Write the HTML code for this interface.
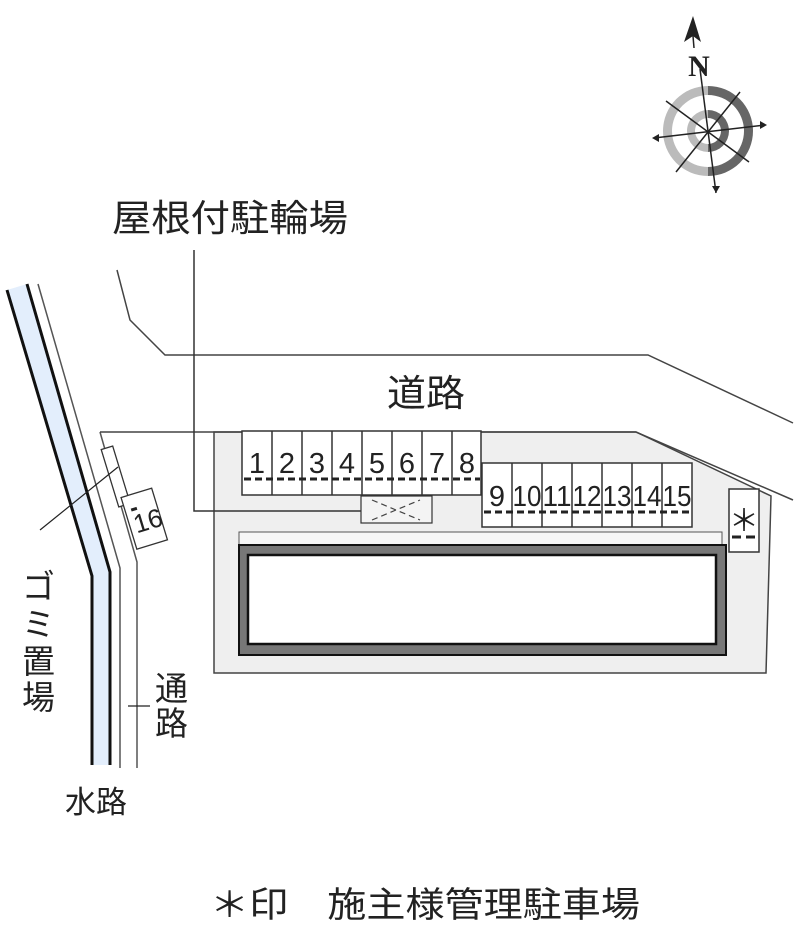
<!DOCTYPE html>
<html><head><meta charset="utf-8"><style>
html,body{margin:0;padding:0;background:#fff;}
svg{display:block;}
text{font-family:"Liberation Sans","Noto Sans CJK JP",sans-serif;fill:#222;}
</style></head><body>
<svg width="800" height="941" viewBox="0 0 800 941" xmlns="http://www.w3.org/2000/svg">
<polygon points="7,290 27,284 110,572 110,765 92,765 92,576" fill="#e3eefc"/>
<polyline points="7,290 92,576 92,765" fill="none" stroke="#111" stroke-width="3"/>
<polyline points="27,284 110,572 110,765" fill="none" stroke="#111" stroke-width="3"/>
<polyline points="38,284 120,568 120,768" fill="none" stroke="#555" stroke-width="1.5"/>
<polyline points="100,432 137,562 137,768" fill="none" stroke="#555" stroke-width="1.5"/>
<polyline points="117,270 130,320 165,355 648,355 793,423" fill="none" stroke="#444" stroke-width="1.5"/>
<polygon points="214,432 636,432 771,496 766,673 214,673" fill="#efefef" stroke="#444" stroke-width="1.5"/>
<polyline points="100,432 636,432 793,500" fill="none" stroke="#444" stroke-width="1.5"/>
<polyline points="194,250 194,511 361,511" fill="none" stroke="#333" stroke-width="1.5"/>
<g stroke="#333" stroke-width="1.5" fill="#fff">
<rect x="242" y="431" width="239" height="64"/>
<rect x="482" y="463" width="210" height="64"/>
<rect x="729" y="489" width="30" height="63"/>
<rect x="361" y="496" width="71" height="27" fill="#f4f4f4" stroke-width="1.2"/>
</g>
<g stroke="#333" stroke-width="1.5">
<line x1="272" y1="431" x2="272" y2="495"/><line x1="302" y1="431" x2="302" y2="495"/>
<line x1="332" y1="431" x2="332" y2="495"/><line x1="362" y1="431" x2="362" y2="495"/>
<line x1="392" y1="431" x2="392" y2="495"/><line x1="422" y1="431" x2="422" y2="495"/>
<line x1="452" y1="431" x2="452" y2="495"/>
<line x1="512" y1="463" x2="512" y2="527"/><line x1="542" y1="463" x2="542" y2="527"/>
<line x1="572" y1="463" x2="572" y2="527"/><line x1="602" y1="463" x2="602" y2="527"/>
<line x1="632" y1="463" x2="632" y2="527"/><line x1="662" y1="463" x2="662" y2="527"/>
</g>
<g stroke="#222" stroke-width="3" stroke-dasharray="7,4">
<line x1="244" y1="479" x2="480" y2="479"/>
<line x1="484" y1="512" x2="691" y2="512"/>
<line x1="732" y1="537" x2="757" y2="537" stroke-dasharray="9,5"/>
</g>
<g stroke="#444" stroke-width="1.2" stroke-dasharray="6,4">
<line x1="372" y1="500" x2="420" y2="520"/><line x1="372" y1="520" x2="420" y2="500"/>
</g>
<g font-size="29" text-anchor="middle">
<text x="257" y="473">1</text><text x="287" y="473">2</text><text x="317" y="473">3</text>
<text x="347" y="473">4</text><text x="377" y="473">5</text><text x="407" y="473">6</text>
<text x="437" y="473">7</text><text x="467" y="473">8</text>
<text x="497" y="506">9</text>
<text x="527" y="506" textLength="29" lengthAdjust="spacingAndGlyphs">10</text>
<text x="557" y="506" textLength="29" lengthAdjust="spacingAndGlyphs">11</text>
<text x="587" y="506" textLength="29" lengthAdjust="spacingAndGlyphs">12</text>
<text x="617" y="506" textLength="29" lengthAdjust="spacingAndGlyphs">13</text>
<text x="647" y="506" textLength="29" lengthAdjust="spacingAndGlyphs">14</text>
<text x="677" y="506" textLength="29" lengthAdjust="spacingAndGlyphs">15</text>
</g>
<text x="744" y="531" font-size="30" text-anchor="middle" style="font-family:'Noto Sans CJK JP',sans-serif">＊</text>
<rect x="239" y="532" width="483" height="13" fill="#f6f6f6" stroke="#555" stroke-width="1"/>
<rect x="239" y="545" width="487" height="110" fill="#777" stroke="#111" stroke-width="2"/>
<rect x="248" y="555" width="468" height="89" fill="#fff" stroke="#111" stroke-width="2.5"/>
<g transform="rotate(-17 120 470)">
<rect x="108" y="445" width="12" height="60" fill="#fff" stroke="#333" stroke-width="1.3"/>
</g>
<g transform="rotate(-17 143 518)">
<rect x="128" y="492" width="32" height="54" fill="#fff" stroke="#333" stroke-width="1.3"/>
<text x="147" y="531" font-size="26" text-anchor="middle">16</text>
<line x1="134" y1="507" x2="140" y2="507" stroke="#222" stroke-width="3"/>
</g>
<line x1="118" y1="467" x2="40" y2="530" stroke="#222" stroke-width="1.2"/>
<text x="112" y="231" font-size="37" textLength="236" lengthAdjust="spacingAndGlyphs">屋根付駐輪場</text>
<text x="387" y="406" font-size="37" textLength="78" lengthAdjust="spacingAndGlyphs">道路</text>
<g font-size="33">
<text x="22" y="598">ゴ</text><text x="22" y="636">ミ</text>
<text x="22" y="673">置</text><text x="22" y="709">場</text>
<text x="155" y="700">通</text><text x="155" y="735">路</text>
</g>
<line x1="128" y1="706" x2="150" y2="706" stroke="#222" stroke-width="1.2"/>
<text x="65" y="813" font-size="31">水路</text>
<text x="210" y="917" font-size="35" textLength="430" lengthAdjust="spacingAndGlyphs">＊印　施主様管理駐車場</text>
<g transform="translate(708,131)">
<path d="M0,-45 A45,45 0 0 1 0,45 L0,36 A36,36 0 0 0 0,-36 Z" fill="#666"/>
<path d="M0,-45 A45,45 0 0 0 0,45 L0,36 A36,36 0 0 1 0,-36 Z" fill="#bbb"/>
<path d="M0,-21 A21,21 0 0 1 0,21 L0,13 A13,13 0 0 0 0,-13 Z" fill="#666"/>
<path d="M0,-21 A21,21 0 0 0 0,21 L0,13 A13,13 0 0 1 0,-13 Z" fill="#bbb"/>
<g stroke="#222" stroke-width="1.5">
<line x1="-8" y1="-62" x2="8" y2="62"/>
<line x1="-54" y1="7" x2="57" y2="-6"/>
<line x1="-42" y1="-30" x2="41" y2="31"/>
<line x1="-32" y1="41" x2="32" y2="-39"/>
</g>
<polygon points="8,62 4,55 12,55" fill="#222"/>
<polygon points="-56,7 -49,3 -49,11" fill="#222"/>
<polygon points="59,-6 52,-10 52,-2" fill="#222"/>
</g>
<polygon points="693,16 684,42 693,36 701,42" fill="#222"/>
<line x1="693" y1="36" x2="694" y2="48" stroke="#222" stroke-width="1.5"/>
<text x="699" y="76" font-size="30" font-weight="bold" text-anchor="middle" style="font-family:'Liberation Serif',serif">N</text>
</svg>
</body></html>
